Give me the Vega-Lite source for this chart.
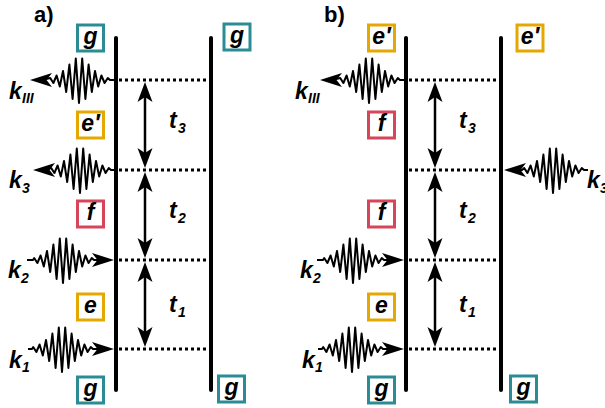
{
  "$schema": "https://vega.github.io/schema/vega-lite/v6.json",
  "width": 605,
  "height": 408,
  "autosize": "none",
  "padding": 0,
  "background": "white",
  "config": {"view": {"stroke": null}},
  "datasets": {
    "wave": [
      {"p":"P1","i":0,"x":42,"y":80},{"p":"P1","i":1,"x":50.2,"y":78},{"p":"P1","i":2,"x":53.4,"y":83},{"p":"P1","i":3,"x":56.6,"y":75.5},{"p":"P1","i":4,"x":59.8,"y":86.5},{"p":"P1","i":5,"x":63,"y":71},{"p":"P1","i":6,"x":66.2,"y":92},{"p":"P1","i":7,"x":69.4,"y":64.5},{"p":"P1","i":8,"x":72.6,"y":99},{"p":"P1","i":9,"x":75.8,"y":58.5},{"p":"P1","i":10,"x":79,"y":103},{"p":"P1","i":11,"x":82.2,"y":58.5},{"p":"P1","i":12,"x":85.4,"y":99},{"p":"P1","i":13,"x":88.6,"y":64.5},{"p":"P1","i":14,"x":91.8,"y":92},{"p":"P1","i":15,"x":95,"y":71},{"p":"P1","i":16,"x":98.2,"y":86.5},{"p":"P1","i":17,"x":101.4,"y":75.5},{"p":"P1","i":18,"x":104.6,"y":83},{"p":"P1","i":19,"x":107.8,"y":78},{"p":"P1","i":20,"x":110,"y":80},{"p":"P1","i":21,"x":116,"y":80},
      {"p":"P2","i":0,"x":45,"y":170},{"p":"P2","i":1,"x":51.2,"y":168},{"p":"P2","i":2,"x":54.4,"y":173},{"p":"P2","i":3,"x":57.6,"y":165.5},{"p":"P2","i":4,"x":60.8,"y":176.5},{"p":"P2","i":5,"x":64,"y":161},{"p":"P2","i":6,"x":67.2,"y":182},{"p":"P2","i":7,"x":70.4,"y":154.5},{"p":"P2","i":8,"x":73.6,"y":189},{"p":"P2","i":9,"x":76.8,"y":148.5},{"p":"P2","i":10,"x":80,"y":193},{"p":"P2","i":11,"x":83.2,"y":148.5},{"p":"P2","i":12,"x":86.4,"y":189},{"p":"P2","i":13,"x":89.6,"y":154.5},{"p":"P2","i":14,"x":92.8,"y":182},{"p":"P2","i":15,"x":96,"y":161},{"p":"P2","i":16,"x":99.2,"y":176.5},{"p":"P2","i":17,"x":102.4,"y":165.5},{"p":"P2","i":18,"x":105.6,"y":173},{"p":"P2","i":19,"x":108.8,"y":168},{"p":"P2","i":20,"x":111,"y":170},{"p":"P2","i":21,"x":116,"y":170},
      {"p":"P3","i":0,"x":27,"y":260},{"p":"P3","i":1,"x":33,"y":260},{"p":"P3","i":2,"x":34.2,"y":258},{"p":"P3","i":3,"x":37.4,"y":263},{"p":"P3","i":4,"x":40.6,"y":255.5},{"p":"P3","i":5,"x":43.8,"y":266.5},{"p":"P3","i":6,"x":47,"y":251},{"p":"P3","i":7,"x":50.2,"y":272},{"p":"P3","i":8,"x":53.4,"y":244.5},{"p":"P3","i":9,"x":56.6,"y":279},{"p":"P3","i":10,"x":59.8,"y":238.5},{"p":"P3","i":11,"x":63,"y":283},{"p":"P3","i":12,"x":66.2,"y":238.5},{"p":"P3","i":13,"x":69.4,"y":279},{"p":"P3","i":14,"x":72.6,"y":244.5},{"p":"P3","i":15,"x":75.8,"y":272},{"p":"P3","i":16,"x":79,"y":251},{"p":"P3","i":17,"x":82.2,"y":266.5},{"p":"P3","i":18,"x":85.4,"y":255.5},{"p":"P3","i":19,"x":88.6,"y":263},{"p":"P3","i":20,"x":91.8,"y":258},{"p":"P3","i":21,"x":94,"y":260},{"p":"P3","i":22,"x":104,"y":260},
      {"p":"P4","i":0,"x":28,"y":349},{"p":"P4","i":1,"x":32,"y":349},{"p":"P4","i":2,"x":33.2,"y":347},{"p":"P4","i":3,"x":36.4,"y":352},{"p":"P4","i":4,"x":39.6,"y":344.5},{"p":"P4","i":5,"x":42.8,"y":355.5},{"p":"P4","i":6,"x":46,"y":340},{"p":"P4","i":7,"x":49.2,"y":361},{"p":"P4","i":8,"x":52.4,"y":333.5},{"p":"P4","i":9,"x":55.6,"y":368},{"p":"P4","i":10,"x":58.8,"y":327.5},{"p":"P4","i":11,"x":62,"y":372},{"p":"P4","i":12,"x":65.2,"y":327.5},{"p":"P4","i":13,"x":68.4,"y":368},{"p":"P4","i":14,"x":71.6,"y":333.5},{"p":"P4","i":15,"x":74.8,"y":361},{"p":"P4","i":16,"x":78,"y":340},{"p":"P4","i":17,"x":81.2,"y":355.5},{"p":"P4","i":18,"x":84.4,"y":344.5},{"p":"P4","i":19,"x":87.6,"y":352},{"p":"P4","i":20,"x":90.8,"y":347},{"p":"P4","i":21,"x":93,"y":349},{"p":"P4","i":22,"x":104,"y":349},
      {"p":"P5","i":0,"x":332,"y":80},{"p":"P5","i":1,"x":340.2,"y":78},{"p":"P5","i":2,"x":343.4,"y":83},{"p":"P5","i":3,"x":346.6,"y":75.5},{"p":"P5","i":4,"x":349.8,"y":86.5},{"p":"P5","i":5,"x":353,"y":71},{"p":"P5","i":6,"x":356.2,"y":92},{"p":"P5","i":7,"x":359.4,"y":64.5},{"p":"P5","i":8,"x":362.6,"y":99},{"p":"P5","i":9,"x":365.8,"y":58.5},{"p":"P5","i":10,"x":369,"y":103},{"p":"P5","i":11,"x":372.2,"y":58.5},{"p":"P5","i":12,"x":375.4,"y":99},{"p":"P5","i":13,"x":378.6,"y":64.5},{"p":"P5","i":14,"x":381.8,"y":92},{"p":"P5","i":15,"x":385,"y":71},{"p":"P5","i":16,"x":388.2,"y":86.5},{"p":"P5","i":17,"x":391.4,"y":75.5},{"p":"P5","i":18,"x":394.6,"y":83},{"p":"P5","i":19,"x":397.8,"y":78},{"p":"P5","i":20,"x":400,"y":80},{"p":"P5","i":21,"x":406,"y":80},
      {"p":"P6","i":0,"x":516,"y":170},{"p":"P6","i":1,"x":522,"y":170},{"p":"P6","i":2,"x":524.2,"y":168},{"p":"P6","i":3,"x":527.4,"y":173},{"p":"P6","i":4,"x":530.6,"y":165.5},{"p":"P6","i":5,"x":533.8,"y":176.5},{"p":"P6","i":6,"x":537,"y":161},{"p":"P6","i":7,"x":540.2,"y":182},{"p":"P6","i":8,"x":543.4,"y":154.5},{"p":"P6","i":9,"x":546.6,"y":189},{"p":"P6","i":10,"x":549.8,"y":148.5},{"p":"P6","i":11,"x":553,"y":193},{"p":"P6","i":12,"x":556.2,"y":148.5},{"p":"P6","i":13,"x":559.4,"y":189},{"p":"P6","i":14,"x":562.6,"y":154.5},{"p":"P6","i":15,"x":565.8,"y":182},{"p":"P6","i":16,"x":569,"y":161},{"p":"P6","i":17,"x":572.2,"y":176.5},{"p":"P6","i":18,"x":575.4,"y":165.5},{"p":"P6","i":19,"x":578.6,"y":173},{"p":"P6","i":20,"x":581.8,"y":168},{"p":"P6","i":21,"x":584,"y":170},{"p":"P6","i":22,"x":588,"y":170},
      {"p":"P7","i":0,"x":317,"y":260},{"p":"P7","i":1,"x":323,"y":260},{"p":"P7","i":2,"x":324.2,"y":258},{"p":"P7","i":3,"x":327.4,"y":263},{"p":"P7","i":4,"x":330.6,"y":255.5},{"p":"P7","i":5,"x":333.8,"y":266.5},{"p":"P7","i":6,"x":337,"y":251},{"p":"P7","i":7,"x":340.2,"y":272},{"p":"P7","i":8,"x":343.4,"y":244.5},{"p":"P7","i":9,"x":346.6,"y":279},{"p":"P7","i":10,"x":349.8,"y":238.5},{"p":"P7","i":11,"x":353,"y":283},{"p":"P7","i":12,"x":356.2,"y":238.5},{"p":"P7","i":13,"x":359.4,"y":279},{"p":"P7","i":14,"x":362.6,"y":244.5},{"p":"P7","i":15,"x":365.8,"y":272},{"p":"P7","i":16,"x":369,"y":251},{"p":"P7","i":17,"x":372.2,"y":266.5},{"p":"P7","i":18,"x":375.4,"y":255.5},{"p":"P7","i":19,"x":378.6,"y":263},{"p":"P7","i":20,"x":381.8,"y":258},{"p":"P7","i":21,"x":384,"y":260},{"p":"P7","i":22,"x":394,"y":260},
      {"p":"P8","i":0,"x":318,"y":349},{"p":"P8","i":1,"x":322,"y":349},{"p":"P8","i":2,"x":323.2,"y":347},{"p":"P8","i":3,"x":326.4,"y":352},{"p":"P8","i":4,"x":329.6,"y":344.5},{"p":"P8","i":5,"x":332.8,"y":355.5},{"p":"P8","i":6,"x":336,"y":340},{"p":"P8","i":7,"x":339.2,"y":361},{"p":"P8","i":8,"x":342.4,"y":333.5},{"p":"P8","i":9,"x":345.6,"y":368},{"p":"P8","i":10,"x":348.8,"y":327.5},{"p":"P8","i":11,"x":352,"y":372},{"p":"P8","i":12,"x":355.2,"y":327.5},{"p":"P8","i":13,"x":358.4,"y":368},{"p":"P8","i":14,"x":361.6,"y":333.5},{"p":"P8","i":15,"x":364.8,"y":361},{"p":"P8","i":16,"x":368,"y":340},{"p":"P8","i":17,"x":371.2,"y":355.5},{"p":"P8","i":18,"x":374.4,"y":344.5},{"p":"P8","i":19,"x":377.6,"y":352},{"p":"P8","i":20,"x":380.8,"y":347},{"p":"P8","i":21,"x":383,"y":349},{"p":"P8","i":22,"x":394,"y":349}
    ],
    "heads": [
      {"x":41,"y":80,"shape":"M -1 0 L 1 -0.64 L 0.5 0 L 1 0.64 Z","s":484},
      {"x":44,"y":170,"shape":"M -1 0 L 1 -0.64 L 0.5 0 L 1 0.64 Z","s":484},
      {"x":103,"y":260,"shape":"M 1 0 L -1 -0.64 L -0.5 0 L -1 0.64 Z","s":484},
      {"x":103,"y":349,"shape":"M 1 0 L -1 -0.64 L -0.5 0 L -1 0.64 Z","s":484},
      {"x":331,"y":80,"shape":"M -1 0 L 1 -0.64 L 0.5 0 L 1 0.64 Z","s":484},
      {"x":515,"y":170,"shape":"M -1 0 L 1 -0.64 L 0.5 0 L 1 0.64 Z","s":484},
      {"x":393,"y":260,"shape":"M 1 0 L -1 -0.64 L -0.5 0 L -1 0.64 Z","s":484},
      {"x":393,"y":349,"shape":"M 1 0 L -1 -0.64 L -0.5 0 L -1 0.64 Z","s":484},
      {"x":145,"y":92,"shape":"M 0 -1 L 0.75 1 L 0 0.5 L -0.75 1 Z","s":400},
      {"x":145,"y":158,"shape":"M 0 1 L 0.75 -1 L 0 -0.5 L -0.75 -1 Z","s":400},
      {"x":145,"y":182,"shape":"M 0 -1 L 0.75 1 L 0 0.5 L -0.75 1 Z","s":400},
      {"x":145,"y":248,"shape":"M 0 1 L 0.75 -1 L 0 -0.5 L -0.75 -1 Z","s":400},
      {"x":145,"y":272,"shape":"M 0 -1 L 0.75 1 L 0 0.5 L -0.75 1 Z","s":400},
      {"x":145,"y":337,"shape":"M 0 1 L 0.75 -1 L 0 -0.5 L -0.75 -1 Z","s":400},
      {"x":435,"y":92,"shape":"M 0 -1 L 0.75 1 L 0 0.5 L -0.75 1 Z","s":400},
      {"x":435,"y":158,"shape":"M 0 1 L 0.75 -1 L 0 -0.5 L -0.75 -1 Z","s":400},
      {"x":435,"y":182,"shape":"M 0 -1 L 0.75 1 L 0 0.5 L -0.75 1 Z","s":400},
      {"x":435,"y":248,"shape":"M 0 1 L 0.75 -1 L 0 -0.5 L -0.75 -1 Z","s":400},
      {"x":435,"y":272,"shape":"M 0 -1 L 0.75 1 L 0 0.5 L -0.75 1 Z","s":400},
      {"x":435,"y":337,"shape":"M 0 1 L 0.75 -1 L 0 -0.5 L -0.75 -1 Z","s":400}
    ],
    "vlines": [
      {"x":116,"y1":38,"y2":390},{"x":211,"y1":38,"y2":390},
      {"x":406,"y1":38,"y2":390},{"x":501,"y1":38,"y2":390}
    ],
    "hlines": [
      {"x1":119,"x2":209,"y":80},{"x1":119,"x2":209,"y":170},{"x1":119,"x2":209,"y":260},{"x1":119,"x2":209,"y":349},
      {"x1":409,"x2":499,"y":80},{"x1":409,"x2":499,"y":170},{"x1":409,"x2":499,"y":260},{"x1":409,"x2":499,"y":349}
    ],
    "shafts": [
      {"x":145,"y1":88,"y2":162},{"x":145,"y1":178,"y2":252},{"x":145,"y1":268,"y2":341},
      {"x":435,"y1":88,"y2":162},{"x":435,"y1":178,"y2":252},{"x":435,"y1":268,"y2":341}
    ],
    "boxes": [
      {"t":"g","x":90.5,"y":38,"c":"#2b8c96"},{"t":"e′","x":90.5,"y":125,"c":"#e5a800"},{"t":"f","x":90.5,"y":214,"c":"#d6455a"},{"t":"e","x":90.5,"y":307,"c":"#e5a800"},{"t":"g","x":90.5,"y":390,"c":"#2b8c96"},
      {"t":"g","x":237,"y":37,"c":"#2b8c96"},{"t":"g","x":231.5,"y":389,"c":"#2b8c96"},
      {"t":"e′","x":381.5,"y":38,"c":"#e5a800"},{"t":"f","x":381.5,"y":125,"c":"#d6455a"},{"t":"f","x":381.5,"y":214,"c":"#d6455a"},{"t":"e","x":381.5,"y":307,"c":"#e5a800"},{"t":"g","x":381.5,"y":390,"c":"#2b8c96"},
      {"t":"e′","x":530,"y":38,"c":"#e5a800"},{"t":"g","x":523.5,"y":389,"c":"#2b8c96"}
    ],
    "labels": [
      {"t":"k","x":9,"y":99,"s":23},{"t":"III","x":22,"y":103,"s":14},
      {"t":"k","x":9,"y":188,"s":23},{"t":"3","x":22,"y":193,"s":14},
      {"t":"k","x":8,"y":278,"s":23},{"t":"2","x":21,"y":283,"s":14},
      {"t":"k","x":9,"y":368,"s":23},{"t":"1","x":22,"y":372,"s":14},
      {"t":"k","x":295,"y":99,"s":23},{"t":"III","x":308,"y":103,"s":14},
      {"t":"k","x":587,"y":188,"s":23},{"t":"3","x":600,"y":193,"s":14},
      {"t":"k","x":300,"y":278,"s":23},{"t":"2","x":313,"y":283,"s":14},
      {"t":"k","x":302,"y":368,"s":23},{"t":"1","x":315,"y":372,"s":14},
      {"t":"t","x":169,"y":128,"s":23},{"t":"3","x":178,"y":133,"s":14},
      {"t":"t","x":169,"y":218,"s":23},{"t":"2","x":178,"y":223,"s":14},
      {"t":"t","x":169,"y":312,"s":23},{"t":"1","x":178,"y":317,"s":14},
      {"t":"t","x":459,"y":128,"s":23},{"t":"3","x":468,"y":133,"s":14},
      {"t":"t","x":459,"y":218,"s":23},{"t":"2","x":468,"y":223,"s":14},
      {"t":"t","x":459,"y":312,"s":23},{"t":"1","x":468,"y":317,"s":14}
    ],
    "panels": [
      {"t":"a)","x":34,"y":22},{"t":"b)","x":324,"y":22}
    ]
  },
  "layer": [
    {
      "data": {"name": "wave"},
      "mark": {"type": "line", "color": "black", "strokeWidth": 2, "strokeJoin": "round"},
      "encoding": {
        "x": {"field": "x", "type": "quantitative", "scale": {"domain": [0, 605], "nice": false, "zero": false}, "axis": null},
        "y": {"field": "y", "type": "quantitative", "scale": {"domain": [0, 408], "nice": false, "zero": false, "reverse": true}, "axis": null},
        "detail": {"field": "p", "type": "nominal"},
        "order": {"field": "i", "type": "quantitative"}
      }
    },
    {
      "data": {"name": "vlines"},
      "mark": {"type": "rule", "color": "black", "strokeWidth": 4, "strokeCap": "round"},
      "encoding": {
        "x": {"field": "x", "type": "quantitative", "axis": null},
        "y": {"field": "y1", "type": "quantitative", "axis": null},
        "y2": {"field": "y2"}
      }
    },
    {
      "data": {"name": "hlines"},
      "mark": {"type": "rule", "color": "black", "strokeWidth": 3, "strokeDash": [3, 3]},
      "encoding": {
        "x": {"field": "x1", "type": "quantitative", "axis": null},
        "x2": {"field": "x2"},
        "y": {"field": "y", "type": "quantitative", "axis": null}
      }
    },
    {
      "data": {"name": "shafts"},
      "mark": {"type": "rule", "color": "black", "strokeWidth": 2.5},
      "encoding": {
        "x": {"field": "x", "type": "quantitative", "axis": null},
        "y": {"field": "y1", "type": "quantitative", "axis": null},
        "y2": {"field": "y2"}
      }
    },
    {
      "data": {"name": "heads"},
      "mark": {"type": "point", "filled": true, "color": "black", "opacity": 1, "strokeWidth": 0},
      "encoding": {
        "x": {"field": "x", "type": "quantitative", "axis": null},
        "y": {"field": "y", "type": "quantitative", "axis": null},
        "shape": {"field": "shape", "type": "nominal", "scale": null, "legend": null},
        "size": {"field": "s", "type": "quantitative", "scale": null, "legend": null}
      }
    },
    {
      "data": {"name": "boxes"},
      "mark": {"type": "point", "shape": "square", "size": 676, "filled": false, "fill": "white", "fillOpacity": 1, "opacity": 1, "strokeWidth": 3},
      "encoding": {
        "x": {"field": "x", "type": "quantitative", "axis": null},
        "y": {"field": "y", "type": "quantitative", "axis": null},
        "stroke": {"field": "c", "type": "nominal", "scale": null, "legend": null}
      }
    },
    {
      "data": {"name": "boxes"},
      "mark": {"type": "text", "font": "Liberation Sans", "fontWeight": "bold", "fontStyle": "italic", "fontSize": 23, "align": "center", "baseline": "middle", "dy": -1, "color": "black"},
      "encoding": {
        "x": {"field": "x", "type": "quantitative", "axis": null},
        "y": {"field": "y", "type": "quantitative", "axis": null},
        "text": {"field": "t", "type": "nominal"}
      }
    },
    {
      "data": {"name": "labels"},
      "mark": {"type": "text", "font": "Liberation Sans", "fontWeight": "bold", "fontStyle": "italic", "align": "left", "baseline": "alphabetic", "color": "black"},
      "encoding": {
        "x": {"field": "x", "type": "quantitative", "axis": null},
        "y": {"field": "y", "type": "quantitative", "axis": null},
        "text": {"field": "t", "type": "nominal"},
        "size": {"field": "s", "type": "quantitative", "scale": null, "legend": null}
      }
    },
    {
      "data": {"name": "panels"},
      "mark": {"type": "text", "font": "Liberation Sans", "fontWeight": "bold", "fontSize": 22, "align": "left", "baseline": "alphabetic", "color": "black"},
      "encoding": {
        "x": {"field": "x", "type": "quantitative", "axis": null},
        "y": {"field": "y", "type": "quantitative", "axis": null},
        "text": {"field": "t", "type": "nominal"}
      }
    }
  ]
}
